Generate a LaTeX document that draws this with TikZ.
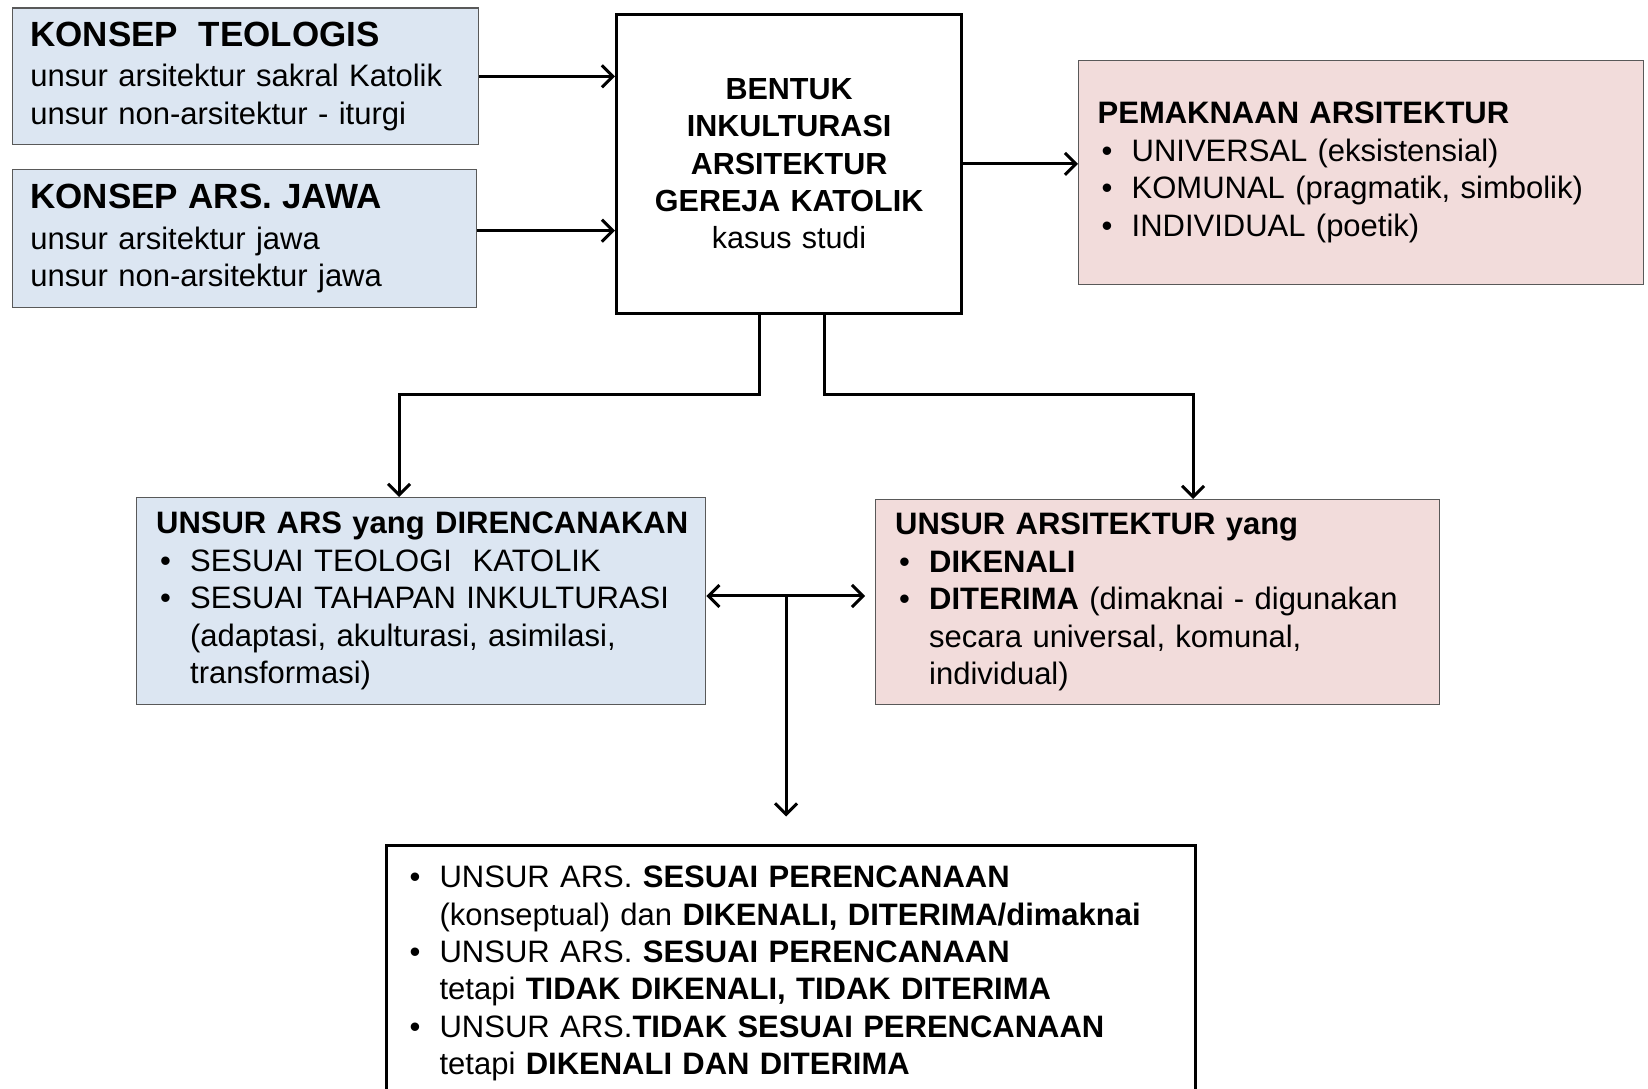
\documentclass[tikz,border=0pt]{standalone}
\usepackage{fontspec}
\setmainfont{Liberation Sans}
\usetikzlibrary{arrows.meta,positioning}
\definecolor{birumuda}{HTML}{DCE6F2}
\definecolor{merahmuda}{HTML}{F2DCDB}
\definecolor{garistepi}{HTML}{595959}
\newcommand{\judul}[1]{{\fontsize{35}{41}\selectfont\bfseries #1}}
\newcommand{\butir}{\par\hangindent=34pt\hangafter=1\noindent\makebox[34pt][l]{\hspace{4pt}\textbullet}}

\begin{document}
\begin{tikzpicture}[x=1pt,y=1pt,
  >={Straight Barb[length=11pt,width=22pt]},
  kotak/.style={draw=garistepi,line width=1.3pt,anchor=north west,align=left,inner ysep=3pt,font=\fontsize{31}{37.5}\selectfont},
  kotakbiru/.style={kotak,fill=birumuda},
  kotakmerah/.style={kotak,fill=merahmuda},
  kotakhitam/.style={draw=black,line width=3.2pt,fill=white,anchor=north west},
  hubung/.style={draw=black,line width=3pt}]
\useasboundingbox (0,0) rectangle (1648,1088);
\clip (0,0) rectangle (1648,1088);
\node[kotakbiru,minimum width=466.4pt,minimum height=136.6pt,text width=430pt,inner xsep=18pt] (teologis) at (11.6,1080.6)
  {\judul{KONSEP~~TEOLOGIS}\\[3pt]unsur arsitektur sakral Katolik\\unsur non-arsitektur - iturgi};
\node[kotakbiru,minimum width=464.4pt,minimum height=138pt,text width=428pt,inner xsep=18pt] (jawa) at (11.6,919)
  {\judul{KONSEP ARS. JAWA}\\[3pt]unsur arsitektur jawa\\unsur non-arsitektur jawa};
\node[kotakhitam,minimum width=345pt,minimum height=299.4pt,text width=325pt,align=center,font=\fontsize{30.5}{37.3}\selectfont] (bentuk) at (615,1075.4)
  {\textbf{BENTUK}\\\textbf{INKULTURASI}\\\textbf{ARSITEKTUR}\\\textbf{GEREJA KATOLIK}\\kasus studi};
\node[kotakmerah,minimum width=565pt,minimum height=224pt,text width=527pt,inner xsep=19pt] (makna) at (1078,1028)
  {\textbf{PEMAKNAAN ARSITEKTUR}\butir UNIVERSAL (eksistensial)\butir KOMUNAL (pragmatik, simbolik)\butir INDIVIDUAL (poetik)\par};
\node[kotakbiru,minimum width=569pt,minimum height=207pt,text width=530pt,inner xsep=19.5pt] (rencana) at (136,591)
  {\mbox{\textbf{UNSUR ARS yang DIRENCANAKAN}}\butir SESUAI TEOLOGI~~KATOLIK\butir SESUAI TAHAPAN INKULTURASI\newline(adaptasi, akulturasi, asimilasi,\newline transformasi)\par};
\node[kotakmerah,minimum width=564pt,minimum height=205pt,text width=525pt,inner xsep=19.5pt] (dikenali) at (875,589)
  {\textbf{UNSUR ARSITEKTUR yang}\butir\textbf{DIKENALI}\butir\textbf{DITERIMA} (dimaknai - digunakan\newline secara universal, komunal,\newline individual)\par};
\node[kotakhitam,text width=771pt,inner xsep=19pt,inner ysep=5pt,align=left,font=\fontsize{31}{37.3}\selectfont] (hasil) at (385,244)
  {\butir UNSUR ARS. \textbf{SESUAI PERENCANAAN}\newline(konseptual) dan \textbf{DIKENALI, DITERIMA/dimaknai}\butir UNSUR ARS. \textbf{SESUAI PERENCANAAN}\newline tetapi \textbf{TIDAK DIKENALI, TIDAK DITERIMA}\butir UNSUR ARS.\textbf{TIDAK SESUAI PERENCANAAN}\newline tetapi \textbf{DIKENALI DAN DITERIMA}\par\vspace{40pt}\hbox{}};
\coordinate (siku kiri) at (399,693);
\coordinate (siku kanan) at (1193,693);
\coordinate (cabang) at (786,492);
\draw[hubung,->] (teologis.east) -- (teologis.east -| bentuk.west);
\draw[hubung,->] ([yshift=8pt]jawa.east) -- ([yshift=8pt]jawa.east -| bentuk.west);
\draw[hubung,->] (bentuk.east) -- (bentuk.east -| makna.west);
\draw[hubung,->] ([xshift=-29.5pt]bentuk.south) |- (siku kiri) -- (siku kiri |- rencana.north);
\draw[hubung,->] ([xshift=35.5pt]bentuk.south) |- (siku kanan) -- (siku kanan |- dikenali.north);
\draw[hubung,<->,shorten >=10pt] (rencana.east |- cabang) -- (dikenali.west |- cabang);
\draw[hubung,->] (cabang) -- ([yshift=27.5pt]cabang |- hasil.north);
\end{tikzpicture}
\end{document}
